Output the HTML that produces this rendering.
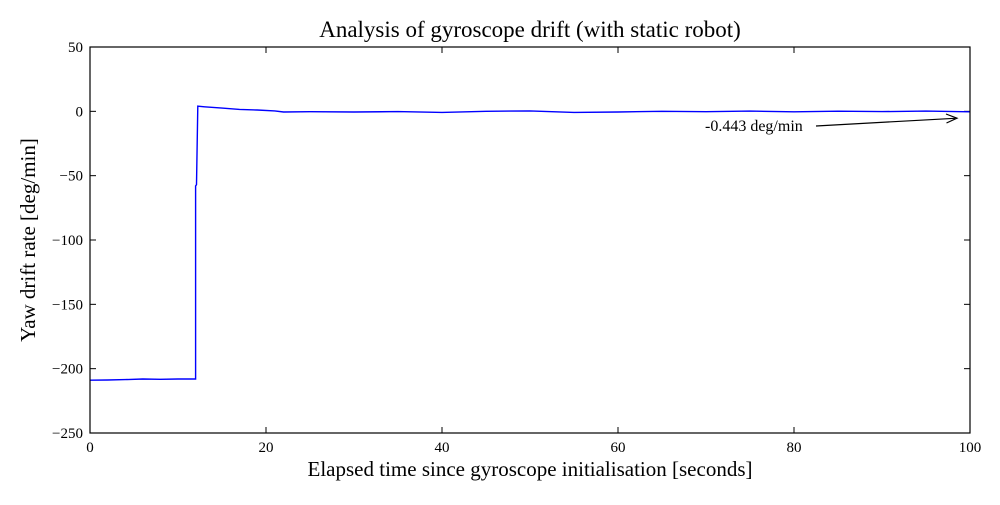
<!DOCTYPE html>
<html><head><meta charset="utf-8"><style>
body{margin:0;background:#fff;}
svg text{font-family:"Liberation Serif",serif;fill:#000;}
</style></head><body>
<svg id="chart" width="1000" height="500" xmlns="http://www.w3.org/2000/svg">
<rect width="1000" height="500" fill="#fff"/>
<text x="530" y="37" font-size="23" text-anchor="middle">Analysis of gyroscope drift (with static robot)</text>
<text x="530" y="476" font-size="21" text-anchor="middle">Elapsed time since gyroscope initialisation [seconds]</text>
<text transform="translate(35,240) rotate(-90)" font-size="21" text-anchor="middle">Yaw drift rate [deg/min]</text>
<g id="ticks"></g>
<polyline id="series" fill="none" stroke="#0000ff" stroke-width="1.4"/>
<rect x="90" y="47" width="880" height="386" fill="none" stroke="#000" stroke-width="1.2"/>
<text x="705" y="131" font-size="16">-0.443 deg/min</text>
<line x1="816" y1="126" x2="955" y2="118.3" stroke="#000" stroke-width="1.2"/>
<path d="M946,114 L957,118.2 L946.5,123" fill="none" stroke="#000" stroke-width="1.2"/>
</svg>
<script>
const xTicks=[0,20,40,60,80,100];
const yTicks=[50,0,-50,-100,-150,-200,-250];
const yTickLabels=["50","0","\u221250","\u2212100","\u2212150","\u2212200","\u2212250"];
const times=[0,2,4,6,8,10,12,12.0,12.1,12.25,13,15,17,19,21,22,25,30,35,40,45,50,55,60,65,70,75,80,85,90,95,100];
const rates=[-209,-208.8,-208.5,-208,-208.3,-208,-208,-58,-57,4,3.5,2.5,1.5,1,0.3,-0.5,-0.3,-0.5,-0.2,-0.8,0,0.3,-0.8,-0.5,0,-0.3,0.2,-0.4,0.1,-0.2,0.2,-0.4];
const X=v=>90+v*8.8, Y=v=>47+(50-v)*386/300;
const ns="http://www.w3.org/2000/svg";
const g=document.getElementById('ticks');
function mk(tag,attrs){const e=document.createElementNS(ns,tag);for(const k in attrs)e.setAttribute(k,attrs[k]);g.appendChild(e);return e;}
xTicks.forEach(t=>{
 const x=X(t);
 const a=mk('line',{x1:x,x2:x,y1:433,y2:427,stroke:'#000'});
 
 
 const b=mk('line',{x1:x,x2:x,y1:47,y2:53,stroke:'#000'});
 
 
 const l=mk('text',{x:x,y:452,'font-size':15,'text-anchor':'middle'});l.textContent=t;
 
 
});
yTicks.forEach((t,i)=>{
 const y=Y(t);
 const a=mk('line',{x1:90,x2:96,y1:y,y2:y,stroke:'#000'});
 
 
 const b=mk('line',{x1:964,x2:970,y1:y,y2:y,stroke:'#000'});
 
 
 const l=mk('text',{x:83,y:y+5,'font-size':15,'text-anchor':'end'});l.textContent=yTickLabels[i];
 
 
});
document.getElementById('series').setAttribute('points',times.map((t,i)=>X(t).toFixed(1)+','+Y(rates[i]).toFixed(1)).join(' '));
</script>
</body></html>
